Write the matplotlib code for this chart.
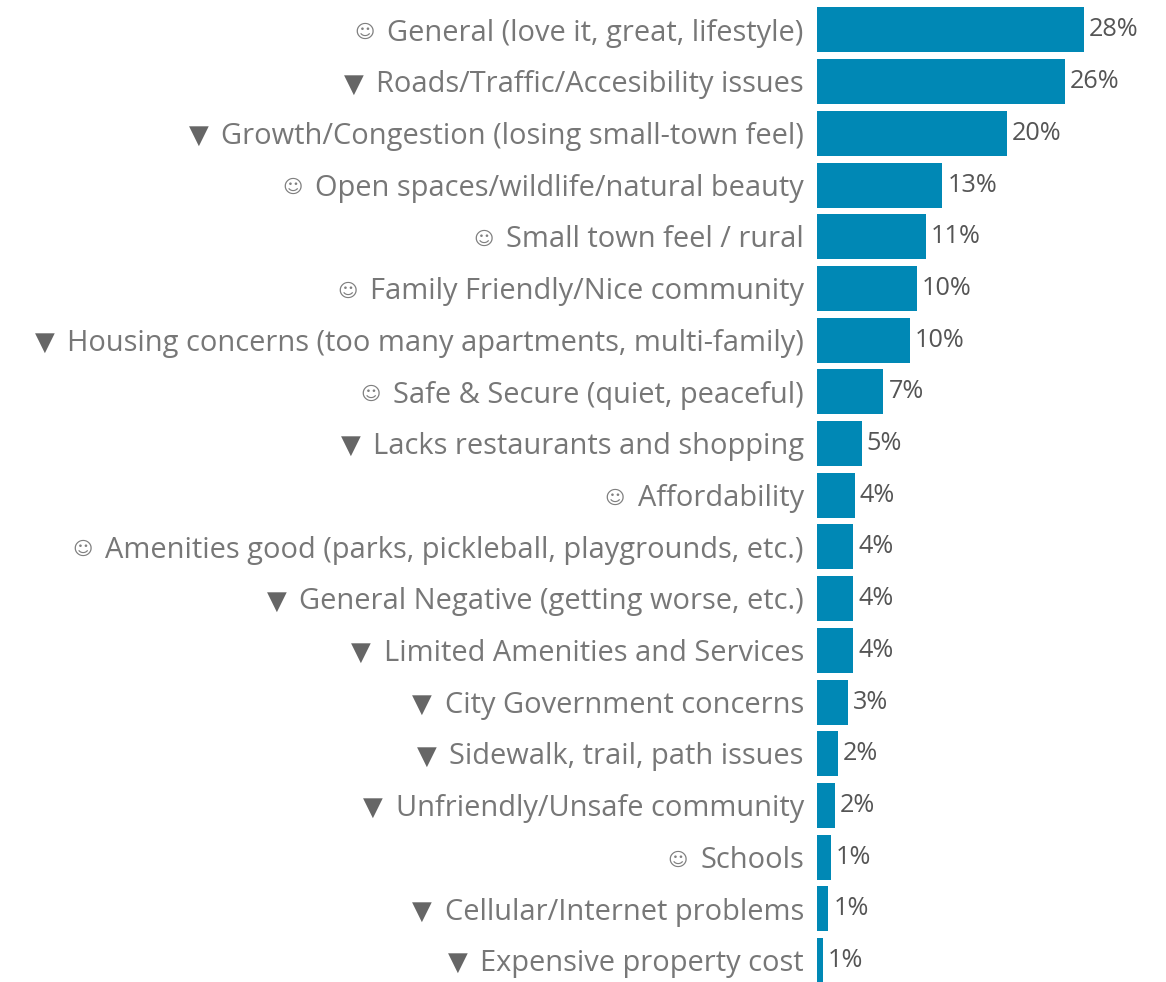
import matplotlib
matplotlib.use("Agg")
import matplotlib.pyplot as plt

plt.rcParams['font.family'] = ['Open Sans', 'DejaVu Sans']

icons = ["☺", "▼", "▼", "☺", "☺", "☺", "▼", "☺", "▼", "☺", "☺", "▼", "▼", "▼", "▼", "▼", "☺", "▼", "▼"]
categories = [
    "General (love it, great, lifestyle)",
    "Roads/Traffic/Accesibility issues",
    "Growth/Congestion (losing small-town feel)",
    "Open spaces/wildlife/natural beauty",
    "Small town feel / rural",
    "Family Friendly/Nice community",
    "Housing concerns (too many apartments, multi-family)",
    "Safe & Secure (quiet, peaceful)",
    "Lacks restaurants and shopping",
    "Affordability",
    "Amenities good (parks, pickleball, playgrounds, etc.)",
    "General Negative (getting worse, etc.)",
    "Limited Amenities and Services",
    "City Government concerns",
    "Sidewalk, trail, path issues",
    "Unfriendly/Unsafe community",
    "Schools",
    "Cellular/Internet problems",
    "Expensive property cost",
]
values = [28.1, 26.1, 20.0, 13.2, 11.49, 10.49, 9.8, 7.0, 4.7, 4.0, 3.8, 3.8, 3.8, 3.3, 2.2, 1.9, 1.49, 1.2, 0.6]

W, H = 1166, 982
fig = plt.figure(figsize=(W / 100, H / 100), dpi=100)
# axes start at the bar baseline; 9.5 px per percent
ax = fig.add_axes([817 / W, 0, 1 - 817 / W, 1])
ax.set_xlim(0, (W - 817) / 9.5)
# row pitch is about 51.7 px, first row centred at y=30
pitch = 51.7
ax.set_ylim((H - 30) / pitch, -30 / pitch)
ax.axis("off")

ypos = list(range(len(values)))
ax.barh(ypos, values, height=45 / pitch, color="#0088b5")

for y, v, cat, icon in zip(ypos, values, categories, icons):
    ax.annotate(f"{v:.0f}%", (v, y), xytext=(3.6, 0), textcoords="offset points",
                va="center", ha="left", fontsize=18.2, color="#555555")
    lab = ax.annotate(cat, (0, y), xytext=(-9.5, -2.3), textcoords="offset points",
                      va="center", ha="right", fontsize=20.9, color="#777777",
                      annotation_clip=False)
    # icon sits left of the label text
    is_tri = icon == "▼"
    ax.annotate(icon, xy=(0, 0.5), xycoords=lab, xytext=(-9, 0), textcoords="offset points",
                va="center", ha="right", annotation_clip=False,
                color="#666666" if is_tri else "#808080",
                fontsize=18.5 if is_tri else 14)

fig.savefig("out.png", dpi=100, facecolor="white")
